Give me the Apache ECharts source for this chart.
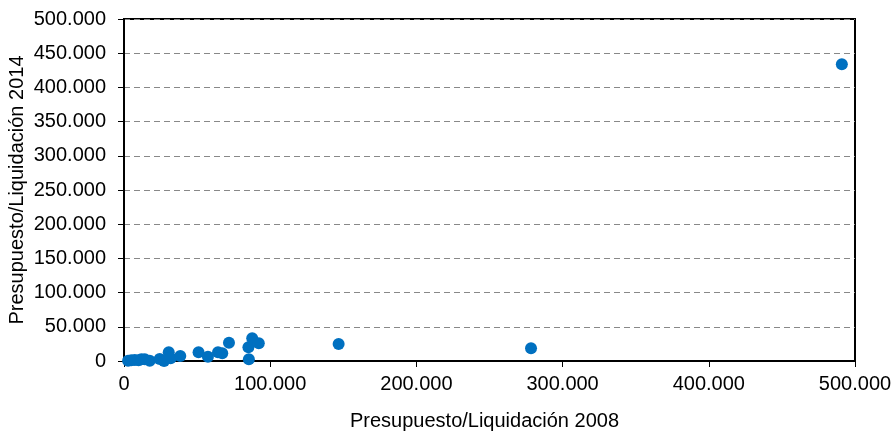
<!DOCTYPE html>
<html><head><meta charset="utf-8">
<script src="https://cdn.jsdelivr.net/npm/echarts@6/dist/echarts.min.js"></script>
<style>html,body{margin:0;padding:0;background:#fff}#c{width:894px;height:432px}</style>
</head><body><div id="c"></div>
<script>
var xTitle = 'Presupuesto/Liquidación 2008';
var yTitle = 'Presupuesto/Liquidación 2014';
var x2008 = [2800, 5000, 7400, 10000, 11900, 14200, 17600, 24400, 27400, 30600, 31900, 38500, 51000, 57400, 64300, 67200, 71800, 85100, 85400, 87700, 92200, 146800, 278400, 491000];
var y2014 = [400, 1000, 1500, 1000, 2500, 2500, 500, 2900, 0, 12700, 3900, 7300, 12700, 6300, 12700, 11300, 26800, 20000, 2500, 33200, 25900, 24900, 18500, 433800];
var data = x2008.map(function(v,i){return [v, y2014[i]];});
function fmt(v){ if(v===0) return '0'; return (v/1000).toFixed(0) + '.000'; }
var font = 'Liberation Sans, Arial, sans-serif';
var chart = echarts.init(document.getElementById('c'));
chart.setOption({
  animation:false,
  grid:{left:124, right:39, top:19, bottom:71, containLabel:false, outerBoundsMode:'none', show:true, borderColor:'#000', borderWidth:2, backgroundColor:'transparent'},
  xAxis:{type:'value', min:0, max:500000, interval:100000,
    name:xTitle, nameLocation:'middle', nameGap:50, nameMoveOverlap:false,
    nameTextStyle:{fontFamily:font, fontSize:20, color:'#000', padding:[0,10,0,0]},
    axisLine:{show:true, lineStyle:{color:'#000', width:2}},
    axisTick:{show:true, length:6, lineStyle:{color:'#000', width:1}},
    axisLabel:{formatter:fmt, fontFamily:font, fontSize:20, color:'#000', margin:13},
    splitLine:{show:false}},
  yAxis:{type:'value', min:0, max:500000, interval:50000,
    name:yTitle, nameLocation:'middle', nameGap:97, nameRotate:90, nameMoveOverlap:false,
    nameTextStyle:{fontFamily:font, fontSize:20, color:'#000'},
    axisLine:{show:true, lineStyle:{color:'#000', width:2}},
    axisTick:{show:true, length:6, lineStyle:{color:'#000', width:1}},
    axisLabel:{formatter:fmt, fontFamily:font, fontSize:20, color:'#000', margin:18},
    splitLine:{show:true, lineStyle:{color:'#888', type:[6,4], width:1}}},
  series:[{type:'scatter', data:data, symbol:'circle', symbolSize:12, itemStyle:{color:'#0070C0', opacity:1}}]
});
</script></body></html>
